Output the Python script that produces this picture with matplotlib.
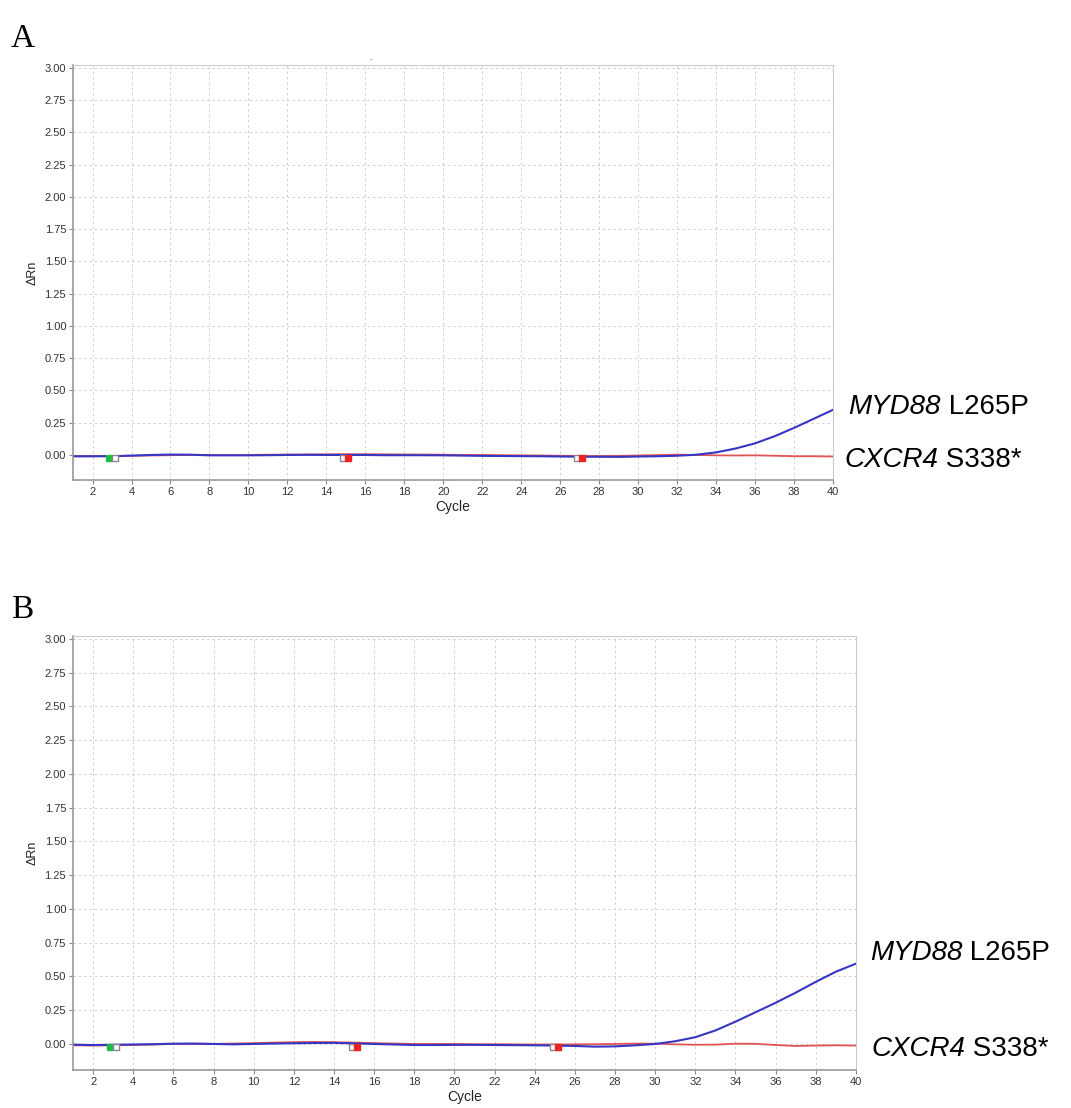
import matplotlib.pyplot as plt

plt.rcParams['font.family'] = ['Liberation Sans', 'DejaVu Sans']

# cycles and amplification curves (delta Rn)
cycles = list(range(1, 41))

a_myd88 = [-0.01, -0.01, -0.01, -0.005, 0.0, 0.003, 0.002, -0.003, -0.003, -0.003,
           -0.002, 0.0, 0.001, 0.0, 0.0, 0.0, -0.002, -0.002, -0.002, -0.003,
           -0.005, -0.007, -0.008, -0.009, -0.01, -0.012, -0.013, -0.014, -0.015, -0.012,
           -0.01, -0.006, 0.002, 0.02, 0.05, 0.09, 0.145, 0.21, 0.28, 0.35]
a_cxcr4 = [-0.01, -0.01, -0.008, -0.006, -0.004, -0.002, 0.0, 0.0, 0.0, 0.0,
           0.002, 0.003, 0.004, 0.005, 0.006, 0.006, 0.005, 0.004, 0.003, 0.002,
           0.0, 0.0, -0.002, -0.003, -0.004, -0.006, -0.008, -0.008, -0.007, -0.004,
           -0.001, 0.002, 0.0, -0.003, -0.004, -0.003, -0.006, -0.01, -0.01, -0.012]

b_myd88 = [-0.005, -0.008, -0.006, -0.004, -0.002, 0.002, 0.003, 0.0, -0.003, 0.0,
           0.003, 0.005, 0.007, 0.008, 0.004, 0.0, -0.004, -0.008, -0.008, -0.007,
           -0.007, -0.008, -0.009, -0.01, -0.012, -0.015, -0.02, -0.018, -0.01, 0.0,
           0.02, 0.05, 0.1, 0.165, 0.235, 0.305, 0.38, 0.46, 0.535, 0.595]
b_cxcr4 = [-0.01, -0.012, -0.01, -0.008, -0.004, 0.0, 0.0, 0.0, 0.003, 0.006,
           0.01, 0.013, 0.015, 0.013, 0.01, 0.006, 0.003, 0.0, 0.0, 0.0,
           -0.002, -0.002, -0.003, -0.004, -0.004, -0.003, -0.002, 0.0, 0.003, 0.002,
           -0.003, -0.006, -0.005, 0.002, 0.001, -0.008, -0.015, -0.012, -0.01, -0.012]

# small baseline / threshold markers (cycle, colour, filled)
a_marks = [(2.85, '#22bb44', True), (3.15, '#888888', False),
           (14.85, '#888888', False), (15.1, '#ee2222', True),
           (26.85, '#888888', False), (27.1, '#ee2222', True)]
b_marks = [(2.85, '#22bb44', True), (3.15, '#888888', False),
           (14.9, '#888888', False), (15.15, '#ee2222', True),
           (24.9, '#888888', False), (25.15, '#ee2222', True)]

yticks = [0.0, 0.25, 0.5, 0.75, 1.0, 1.25, 1.5, 1.75, 2.0, 2.25, 2.5, 2.75, 3.0]
xticks = list(range(2, 41, 2))

blue = '#3636c4'
red = '#e05454'

fig = plt.figure(figsize=(10.71, 11.08), dpi=100)


def label(ax, x, y, gene, mut):
    t = ax.text(x, y, gene, transform=ax.get_yaxis_transform(), fontsize=20,
                fontstyle='italic', va='center', ha='left', clip_on=False)
    ax.annotate(' ' + mut, xy=(1, 0.5), xycoords=t, fontsize=20,
                va='center', ha='left', annotation_clip=False)


def panel(rect, myd, cx, marks, ylo, yhi, lab):
    ax = fig.add_axes(rect)
    ax.plot(cycles, cx, color=red, lw=1.3)
    ax.plot(cycles, myd, color=blue, lw=1.5)
    for x, c, filled in marks:
        ax.plot([x], [-0.02], marker='s', ms=5,
                mfc=c if filled else 'white', mec=c, mew=1, zorder=5)
    ax.set_xlim(1, 40)
    ax.set_ylim(ylo, yhi)
    ax.set_xticks(xticks)
    ax.set_yticks(yticks)
    ax.set_yticklabels(['%.2f' % v for v in yticks])
    ax.tick_params(labelsize=8, length=3, color='#888888', pad=2,
                   labelcolor='#333333')
    ax.grid(True, ls=(0, (2.5, 3)), color='#d0d0d0', lw=0.7)
    for s in ['top', 'right']:
        ax.spines[s].set_color('#cccccc')
    for s in ['left', 'bottom']:
        ax.spines[s].set_color('#999999')
        ax.spines[s].set_linewidth(1.2)
    ax.set_xlabel('Cycle', fontsize=10, labelpad=2, color='#222222')
    ax.set_ylabel('ΔRn', fontsize=9, labelpad=4, color='#222222')
    fig.text(rect[0] - 0.058, rect[1] + rect[3] + 0.01, lab,
             fontsize=24, family='Liberation Serif', va='bottom')
    return ax


axA = panel([0.0682, 0.5668, 0.7096, 0.3745], a_myd88, a_cxcr4, a_marks,
            -0.194, 3.023, 'A')
label(axA, 1.02, 0.37, 'MYD88', 'L265P')
label(axA, 1.015, -0.04, 'CXCR4', 'S338*')
axA.text(0.39, 1.01, '-', transform=axA.transAxes, fontsize=6, color='#666666')

axB = panel([0.0682, 0.0343, 0.7310, 0.3917], b_myd88, b_cxcr4, b_marks,
            -0.193, 3.022, 'B')
label(axB, 1.018, 0.67, 'MYD88', 'L265P')
label(axB, 1.02, -0.04, 'CXCR4', 'S338*')

plt.savefig('out.png', dpi=100)
